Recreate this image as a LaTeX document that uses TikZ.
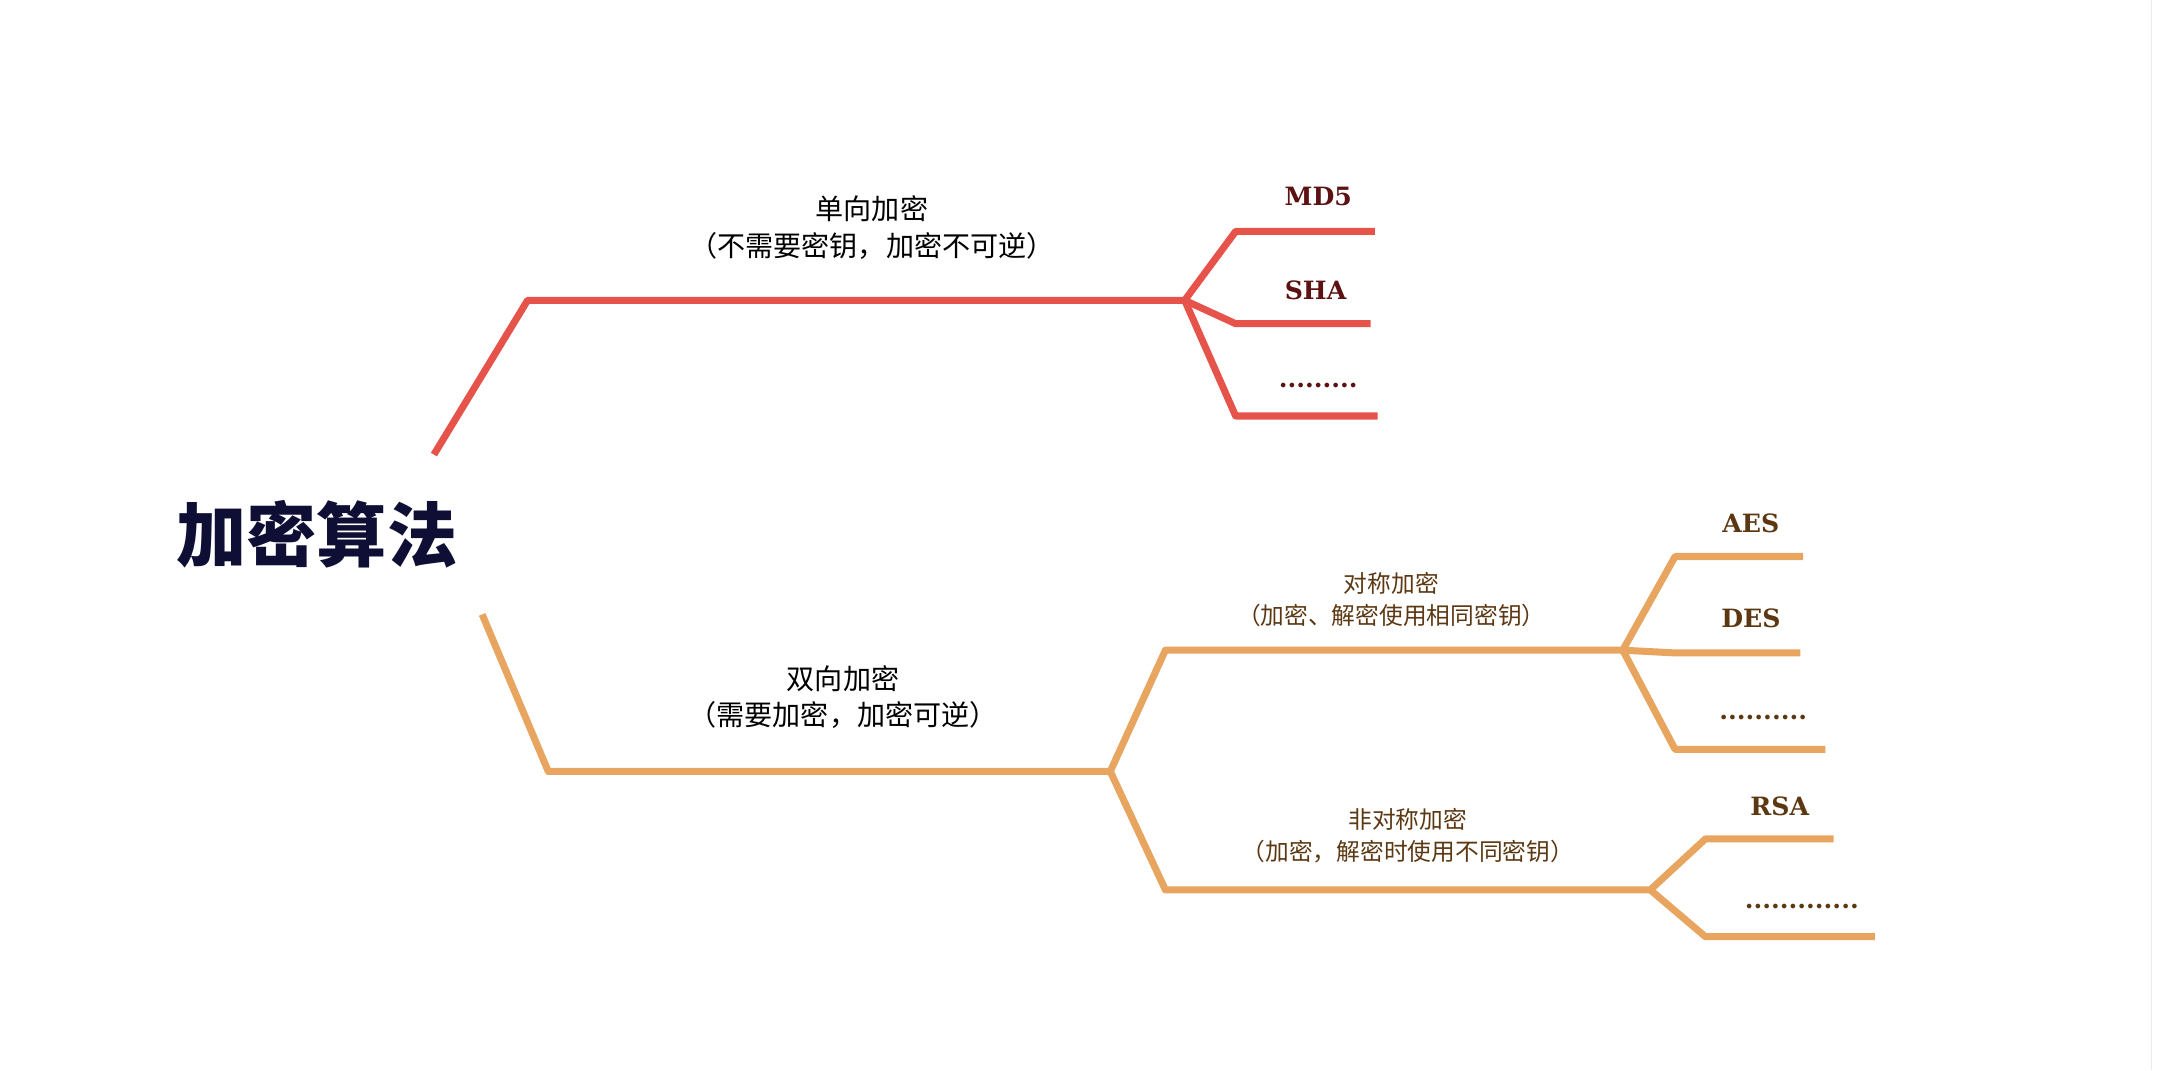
\documentclass[tikz,border=0pt]{standalone}
\usepackage{fontspec}
\setmainfont{DejaVu Serif}
\newfontfamily\cjk{Noto Sans CJK SC}
\usetikzlibrary{positioning}
\definecolor{oneway}{HTML}{E5534B}
\definecolor{twoway}{HTML}{E8A55F}
\definecolor{leafred}{HTML}{5C1212}
\definecolor{leafbrown}{HTML}{5C3812}
\definecolor{rootink}{HTML}{0F0F35}
\tikzset{
  redline/.style={draw=oneway, line width=1.45pt, line join=round},
  orangeline/.style={draw=twoway, line width=1.45pt, line join=round},
  branchtext/.style={font=\cjk\fontsize{5.8}{7.6}\selectfont, align=center},
  subtext/.style={font=\cjk\fontsize{4.9}{6.6}\selectfont, align=center, text=leafbrown},
  leafred/.style={font=\bfseries\fontsize{5.2}{6}\selectfont, text=leafred},
  leafbrown/.style={font=\bfseries\fontsize{5.2}{6}\selectfont, text=leafbrown},
}
\begin{document}
\begin{tikzpicture}[x=0.01cm, y=-0.01cm]
    \useasboundingbox (0,0) rectangle (1568,777);
    \node[font=\cjk\bfseries\fontsize{14.5}{16}\selectfont, text=rootink] (root) at (230,388) {加密算法};

    % one-way branch
    \coordinate (r0) at (315,330);
    \coordinate (r1) at (383,218);
    \coordinate (rj) at (860,218);
    \draw[redline] (r0) -- (r1) -- (rj);
    \node[branchtext] (oneway) at (633,165) {单向加密\\（不需要密钥，加密不可逆）};
    \coordinate (md5e) at (998,168);
    \coordinate (shae) at (995,235);
    \coordinate (rdote) at (1000,302);
    \draw[redline] (rj) -- (897,168) -- (md5e);
    \draw[redline] (rj) -- (897,235) -- (shae);
    \draw[redline] (rj) -- (897,302) -- (rdote);
    \node[leafred] (md5) at (957,143) {MD5};
    \node[leafred] (sha) at (955,211) {SHA};
    \node[leafred] (rdots) at (957,280) {.........};

    % two-way branch
    \coordinate (o0) at (350,446);
    \coordinate (o1) at (398,560);
    \coordinate (oj) at (806,560);
    \draw[orangeline] (o0) -- (o1) -- (oj);
    \node[branchtext] (twoway) at (612,506) {双向加密\\（需要加密，加密可逆）};

    \coordinate (sj) at (1178,472);
    \coordinate (aj) at (1198,646);
    \draw[orangeline] (oj) -- (846,472) -- (sj);
    \draw[orangeline] (oj) -- (846,646) -- (aj);
    \node[subtext] (sym) at (1010,435) {对称加密\\（加密、解密使用相同密钥）};
    \node[subtext] (asym) at (1022,607) {非对称加密\\（加密，解密时使用不同密钥）};

    \draw[orangeline] (sj) -- (1216,404) -- (1309,404);
    \draw[orangeline] (sj) -- (1216,474) -- (1307,474);
    \draw[orangeline] (sj) -- (1216,544) -- (1325,544);
    \node[leafbrown] (aes) at (1271,380) {AES};
    \node[leafbrown] (des) at (1271,449) {DES};
    \node[leafbrown] (sdots) at (1280,521) {..........};

    \draw[orangeline] (aj) -- (1238,609) -- (1331,609);
    \draw[orangeline] (aj) -- (1238,680) -- (1361,680);
    \node[leafbrown] (rsa) at (1292,585) {RSA};
    \node[leafbrown] (adots) at (1308,658) {.............};

    \draw[black!8, line width=0.3pt] (1562,0) -- (1562,777);
\end{tikzpicture}
\end{document}
